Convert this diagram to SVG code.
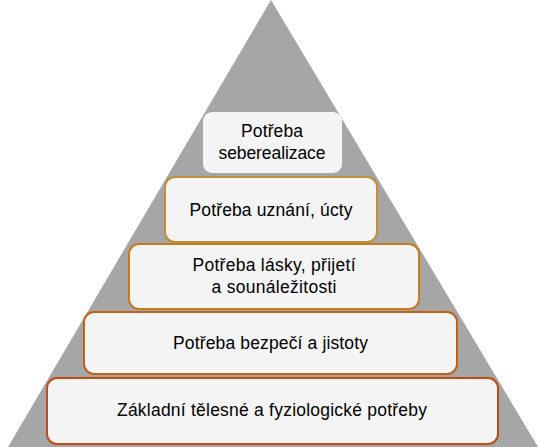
<svg xmlns="http://www.w3.org/2000/svg" width="540" height="447" viewBox="0 0 540 447">
<style>
.box{fill:#f4f4f4;stroke-width:2}
.t{font-family:"Liberation Sans",Arial,sans-serif;font-size:17.5px;fill:#000;text-anchor:middle}
</style>
<rect x="0" y="0" width="540" height="447" fill="#ffffff"/>
<polygon id="pyramid" points="271,0 8,447 538,447" fill="#a6a6a6"/>
<g id="n1">
<rect class="box" x="203" y="112" width="139" height="61" rx="9" fill="#f6f6f6" stroke="none"/>
<text class="t" x="272" y="137" textLength="62">Potřeba</text>
<text class="t" x="272" y="159" textLength="107">seberealizace</text>
</g>
<g id="n2">
<rect class="box" x="165" y="177" width="212" height="65" rx="10" stroke="#bf9038"/>
<text class="t" x="271" y="216" textLength="163">Potřeba uznání, úcty</text>
</g>
<g id="n3">
<rect class="box" x="129" y="244" width="290" height="65" rx="10" stroke="#c27d22"/>
<text class="t" x="274" y="271" textLength="163">Potřeba lásky, přijetí</text>
<text class="t" x="274" y="293" textLength="125">a sounáležitosti</text>
</g>
<g id="n4">
<rect class="box" x="84" y="312" width="373" height="62" rx="10" stroke="#c2621a"/>
<text class="t" x="270.5" y="349" textLength="195">Potřeba bezpečí a jistoty</text>
</g>
<g id="n5">
<rect class="box" x="47" y="378" width="451" height="66" rx="10" stroke="#c04e14"/>
<text class="t" x="272" y="416" textLength="310">Základní tělesné a fyziologické potřeby</text>
</g>
<g id="connectors"></g>
</svg>
